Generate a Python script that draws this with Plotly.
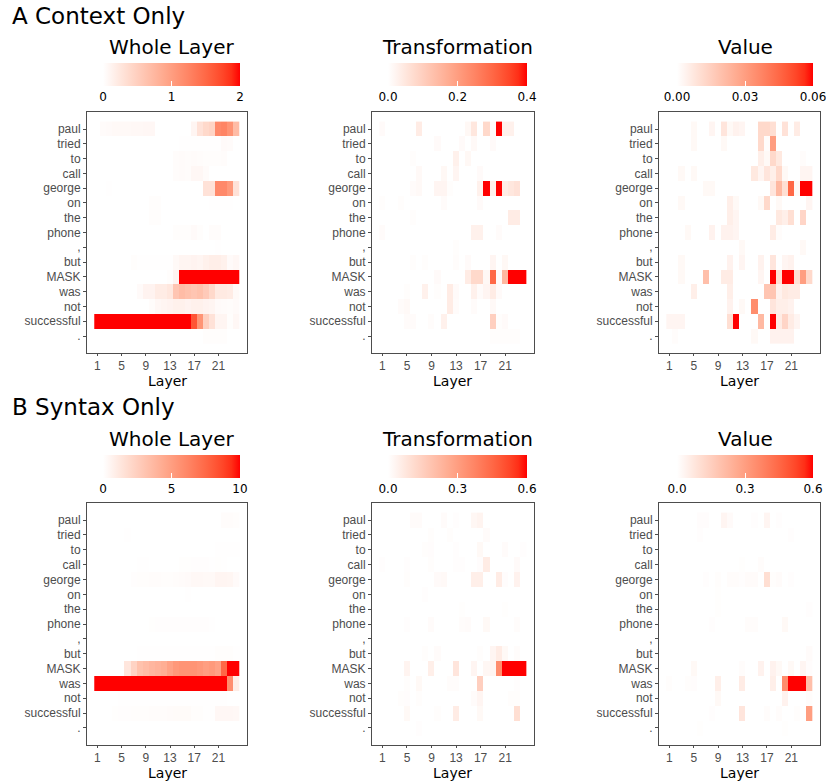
import plotly.graph_objects as go

TOKENS = ["paul", "tried", "to", "call", "george", "on", "the", "phone", ",",
          "but", "MASK", "was", "not", "successful", "."]
LAYERS = list(range(1, 25))
LAYER_TICKS = [1, 5, 9, 13, 17, 21]

# ---------------- A: Context only ----------------
A_WHOLE = [
    [0, .04, .05, .06, .06, .06, .07, .07, .08, .08, 0, 0, 0, 0, 0, 0, .1, .3, .4, .45, 1.2, 1.25, 1.1, .7],
    [0, 0, 0, 0, 0, 0, 0, 0, 0, 0, 0, 0, 0, 0, .01, .01, .01, .01, .01, .01, .01, .05, .04, 0],
    [0, 0, 0, 0, 0, 0, 0, 0, 0, 0, 0, 0, 0, .03, .04, .03, .04, .03, .02, .02, .02, .03, 0, 0],
    [0, 0, 0, 0, 0, 0, 0, 0, 0, 0, 0, 0, 0, .03, .04, .03, .08, .08, .04, 0, 0, 0, 0, 0],
    [0, 0, .01, 0, 0, 0, 0, 0, 0, 0, 0, 0, 0, 0, 0, 0, 0, 0, .3, .3, 1.2, 1.2, 1.05, .3],
    [0, 0, 0, 0, 0, 0, 0, 0, 0, .02, .02, 0, 0, 0, 0, 0, 0, 0, 0, .01, .01, .01, .01, 0],
    [0, 0, 0, 0, 0, 0, 0, 0, 0, .02, .02, 0, 0, 0, 0, 0, 0, 0, 0, 0, 0, 0, 0, 0],
    [0, 0, 0, 0, 0, 0, 0, 0, 0, 0, 0, 0, 0, .02, .02, .02, .05, .02, 0, .03, .03, 0, 0, 0],
    [0, 0, 0, 0, 0, 0, 0, 0, 0, 0, 0, 0, 0, 0, 0, 0, 0, 0, 0, 0, .01, 0, 0, 0],
    [0, 0, 0, 0, 0, 0, .02, .01, .01, .01, .01, .01, .01, .06, .1, .1, .12, .1, .15, .18, .18, .15, .05, .08],
    [0, 0, 0, 0, 0, 0, 0, 0, 0, 0, 0, 0, .02, .12, 2.5, 2.5, 2.5, 2.5, 2.5, 2.5, 2.5, 2.5, 2.5, 2.5],
    [0, 0, 0, 0, 0, 0, 0, .05, .12, .12, .2, .2, .25, .6, .7, .65, .6, .65, .55, .4, .22, .22, .2, .06],
    [0, 0, 0, 0, 0, 0, 0, 0, 0, .03, .08, .1, .12, .15, .15, .12, .15, .15, .12, .1, .05, .04, .03, .05],
    [2.5, 2.5, 2.5, 2.5, 2.5, 2.5, 2.5, 2.5, 2.5, 2.5, 2.5, 2.5, 2.5, 2.5, 2.5, 2.5, 1.65, 1.1, .5, .3, .1, .1, .02, .08],
    [0, 0, 0, 0, 0, 0, 0, 0, 0, 0, 0, 0, 0, 0, 0, 0, 0, 0, .02, .02, .02, .02, 0, 0],
]

A_TRANS = [
    [.01, 0, 0, 0, 0, 0, .04, 0, 0, 0, 0, 0, 0, 0, .015, .05, 0, .08, .01, .45, .03, .03, 0, 0],
    [0, 0, 0, 0, 0, 0, 0, 0, 0, .01, 0, 0, 0, .01, 0, .012, 0, 0, .01, 0, 0, 0, 0, 0],
    [0, 0, 0, 0, 0, .005, 0, 0, 0, 0, 0, 0, .03, 0, .015, 0, 0, 0, 0, 0, 0, 0, 0, 0],
    [0, 0, 0, 0, 0, 0, .012, 0, 0, 0, .015, 0, .02, 0, 0, 0, .01, 0, 0, 0, 0, 0, 0, 0],
    [0, 0, 0, 0, 0, .008, .012, 0, 0, .02, .02, .005, 0, 0, 0, 0, .03, .45, .03, .45, .04, .05, .06, 0],
    [.005, 0, 0, .005, 0, 0, 0, 0, 0, 0, .008, 0, 0, 0, 0, 0, .01, 0, 0, 0, 0, 0, 0, 0],
    [0, 0, 0, 0, 0, .005, 0, 0, 0, 0, 0, 0, 0, 0, 0, 0, 0, 0, 0, 0, 0, .04, .04, 0],
    [.008, 0, 0, 0, 0, 0, 0, 0, 0, 0, 0, 0, 0, 0, 0, .03, .03, 0, 0, .008, 0, 0, 0, 0],
    [0, 0, 0, 0, 0, 0, 0, 0, 0, 0, 0, 0, .005, 0, 0, 0, 0, 0, 0, 0, 0, 0, 0, 0],
    [0, 0, 0, 0, 0, .005, 0, .005, 0, 0, 0, 0, .006, 0, .01, 0, 0, 0, .02, 0, .015, 0, 0, 0],
    [0, 0, 0, 0, 0, 0, 0, 0, 0, .01, 0, 0, 0, 0, .04, .08, .08, .015, .3, .01, .15, .45, .45, .45],
    [0, 0, 0, 0, .005, 0, 0, .03, 0, .005, 0, .04, .01, 0, 0, .03, .008, .02, .04, .01, 0, 0, 0, 0],
    [0, 0, 0, .008, .012, 0, 0, 0, 0, 0, 0, .04, .008, 0, 0, .008, 0, 0, .012, 0, 0, 0, 0, 0],
    [0, 0, 0, 0, .008, .008, 0, 0, .006, 0, .03, 0, 0, 0, 0, 0, 0, 0, .1, .005, .01, 0, 0, 0],
    [0, 0, 0, 0, 0, 0, 0, 0, 0, 0, 0, 0, 0, 0, 0, 0, 0, 0, .005, .005, .005, .005, .005, 0],
]

A_VALUE = [
    [0, 0, 0, 0, .002, 0, 0, .003, 0, .008, .002, .004, .003, 0, 0, .012, .012, .01, 0, .009, 0, .006, 0, 0],
    [0, 0, 0, 0, .002, 0, 0, 0, 0, .002, 0, 0, 0, 0, 0, .012, .001, .03, 0, 0, 0, 0, 0, 0],
    [0, 0, 0, 0, 0, 0, 0, 0, 0, 0, 0, 0, 0, 0, 0, .005, .002, .012, .007, 0, 0, 0, .001, 0],
    [0, 0, .002, 0, .002, 0, 0, 0, 0, 0, 0, 0, 0, 0, .007, .003, .008, .005, .012, .002, 0, 0, .003, .003],
    [0, 0, 0, 0, 0, 0, .002, .002, 0, 0, 0, 0, 0, 0, 0, 0, 0, .008, .022, .01, .045, .002, .065, .065],
    [0, 0, .002, 0, 0, 0, 0, 0, 0, 0, .005, .002, 0, 0, 0, .002, .012, 0, .002, 0, 0, 0, 0, .003],
    [0, 0, 0, 0, 0, 0, 0, 0, 0, 0, .005, .003, 0, 0, 0, 0, 0, 0, .007, .005, .01, 0, .013, 0],
    [0, 0, 0, .002, 0, 0, 0, .004, 0, .004, .004, .003, 0, 0, 0, 0, 0, .006, .001, 0, 0, 0, 0, 0],
    [0, 0, 0, 0, 0, 0, 0, 0, 0, 0, 0, 0, .002, 0, 0, 0, 0, 0, 0, 0, 0, 0, .002, 0],
    [0, 0, .002, 0, 0, 0, 0, 0, 0, 0, .004, 0, .003, 0, 0, .004, 0, .008, 0, .003, .004, 0, 0, 0],
    [0, 0, .002, 0, 0, 0, .02, 0, 0, .006, .006, 0, 0, 0, 0, .003, 0, .065, .01, .065, .065, .01, .03, .012],
    [0, 0, 0, 0, .005, 0, 0, 0, 0, 0, .005, 0, 0, 0, 0, 0, .018, .018, .004, .007, .006, .006, 0, 0],
    [0, 0, 0, 0, 0, 0, 0, 0, 0, 0, .004, 0, .002, 0, .035, 0, 0, .008, .005, .005, .004, 0, 0, 0],
    [.003, .003, .003, 0, 0, 0, 0, 0, 0, 0, .01, .065, 0, 0, 0, .022, 0, .065, .006, .013, .006, .003, 0, 0],
    [0, .001, 0, 0, 0, 0, 0, 0, 0, 0, 0, 0, 0, 0, .002, 0, 0, .004, .004, .004, .004, 0, 0, 0],
]

# ---------------- B: Syntax only ----------------
B_WHOLE = [
    [0, 0, 0, 0, 0, 0, 0, 0, 0, 0, 0, 0, 0, 0, 0, 0, 0, 0, 0, 0, 0, .15, .15, .12],
    [0, 0, 0, 0, 0, .03, 0, 0, 0, 0, 0, 0, 0, 0, 0, 0, 0, 0, 0, 0, 0, 0, 0, 0],
    [0, 0, 0, 0, 0, 0, 0, 0, 0, 0, 0, 0, 0, 0, 0, 0, 0, 0, 0, 0, .04, .05, .05, .03],
    [0, 0, 0, 0, 0, 0, 0, .03, .03, 0, 0, 0, 0, 0, .06, .06, .08, .08, .08, .05, .06, .05, 0, 0],
    [0, 0, 0, 0, 0, 0, .08, .1, .1, .15, .15, .1, .12, .15, .2, .25, .35, .35, .3, .3, .5, .5, .45, .25],
    [0, 0, 0, 0, 0, 0, 0, 0, 0, 0, 0, 0, 0, 0, 0, .05, 0, 0, 0, 0, 0, 0, 0, 0],
    [0, 0, 0, 0, 0, 0, 0, 0, 0, 0, 0, 0, 0, 0, 0, 0, 0, 0, 0, 0, 0, 0, 0, 0],
    [0, 0, 0, 0, 0, 0, 0, 0, 0, .06, .08, .08, .08, .08, .08, .08, .08, .08, .08, .03, 0, 0, 0, 0],
    [0, 0, 0, 0, 0, 0, 0, 0, 0, 0, 0, 0, 0, 0, 0, 0, 0, 0, 0, 0, 0, 0, 0, 0],
    [0, 0, 0, 0, 0, 0, 0, .05, .05, .05, .05, .05, .05, .05, .05, .05, .05, .05, .05, .05, .12, .12, .1, .05],
    [0, 0, 0, 0, 0, 1.3, 2.3, 3.2, 3.5, 3.8, 4.0, 4.2, 4.8, 5.3, 5.5, 5.5, 5.5, 5.3, 5.0, 5.2, 4.8, 7.5, 10.5, 10.5],
    [10.5, 10.5, 10.5, 10.5, 10.5, 10.5, 10.5, 10.5, 10.5, 10.5, 10.5, 10.5, 10.5, 10.5, 10.5, 10.5, 10.5, 10.5, 10.5, 10.5, 10.5, 10.5, 5.8, 1.0],
    [0, 0, 0, 0, .04, .04, .04, .04, .04, .04, .04, .04, .04, .04, .04, .04, .04, .04, .04, .04, .04, .04, 0, 0],
    [0, 0, 0, .06, .08, .08, .12, .12, .12, .15, .15, .15, .2, .22, .22, .22, .12, .12, .05, .03, .4, .4, .4, .35],
    [0, 0, 0, 0, 0, 0, 0, 0, 0, 0, 0, 0, 0, 0, 0, 0, 0, 0, 0, 0, 0, 0, 0, 0],
]

B_TRANS = [
    [0, 0, 0, 0, 0, .012, .012, 0, 0, 0, .012, 0, .005, 0, 0, .025, .035, 0, 0, 0, 0, 0, 0, 0],
    [0, 0, 0, 0, 0, 0, 0, 0, .006, 0, 0, .006, 0, 0, 0, 0, 0, .012, 0, 0, 0, 0, 0, 0],
    [0, 0, 0, 0, 0, 0, 0, .006, .008, 0, 0, 0, .005, 0, 0, 0, .02, 0, 0, 0, .012, 0, 0, .005],
    [.005, 0, 0, 0, .005, 0, 0, 0, .006, 0, 0, 0, .005, .005, 0, 0, .008, .06, 0, 0, 0, 0, .015, 0],
    [0, 0, 0, 0, .006, 0, 0, 0, 0, .015, .018, 0, 0, 0, 0, .05, .05, 0, 0, .06, .008, 0, .04, 0],
    [0, 0, 0, 0, 0, 0, 0, .005, 0, 0, 0, 0, 0, 0, 0, 0, 0, 0, 0, 0, 0, 0, 0, 0],
    [0, 0, 0, 0, 0, 0, 0, 0, 0, 0, 0, 0, 0, .004, 0, 0, 0, 0, 0, 0, .004, 0, 0, 0],
    [0, 0, 0, 0, .005, 0, 0, 0, .012, 0, 0, 0, 0, .01, .012, 0, 0, .02, 0, 0, 0, 0, .01, 0],
    [0, 0, 0, 0, 0, 0, 0, 0, 0, 0, 0, 0, 0, 0, 0, 0, 0, 0, 0, 0, 0, 0, 0, 0],
    [0, 0, 0, 0, 0, 0, 0, .006, 0, .012, 0, 0, 0, 0, 0, 0, .006, 0, .03, .06, .02, 0, .01, 0],
    [0, 0, 0, 0, .035, 0, 0, 0, .05, 0, 0, 0, .08, 0, 0, .03, 0, .025, .03, .35, .65, .65, .65, .65],
    [0, 0, 0, 0, .006, 0, .02, 0, 0, 0, 0, .01, .01, 0, 0, 0, .15, 0, 0, 0, 0, 0, .005, 0],
    [0, 0, 0, .006, .008, 0, .006, 0, 0, 0, 0, 0, 0, 0, 0, .012, .03, 0, 0, 0, 0, .006, .006, 0],
    [0, 0, 0, 0, .02, 0, 0, 0, 0, .006, 0, 0, .06, 0, 0, 0, .02, 0, 0, 0, 0, 0, .1, 0],
    [0, 0, 0, 0, 0, 0, .005, 0, 0, 0, 0, 0, 0, 0, 0, 0, 0, 0, 0, 0, 0, 0, 0, 0],
]

B_VALUE = [
    [0, 0, 0, 0, 0, .008, .008, 0, 0, .03, .015, 0, 0, 0, .005, 0, .03, 0, .005, 0, 0, 0, 0, 0],
    [0, 0, 0, 0, 0, .005, 0, 0, 0, 0, 0, 0, 0, 0, 0, 0, 0, 0, 0, 0, .005, 0, 0, 0],
    [0, 0, 0, 0, 0, 0, 0, 0, 0, 0, 0, 0, 0, 0, 0, 0, 0, 0, 0, 0, 0, 0, 0, 0],
    [0, 0, 0, 0, 0, 0, 0, 0, 0, 0, 0, 0, .004, 0, 0, .01, 0, 0, 0, 0, 0, 0, 0, 0],
    [0, 0, 0, 0, 0, 0, .005, 0, .006, 0, .01, .01, .005, .012, .012, 0, .1, .006, .012, 0, .005, 0, 0, 0],
    [0, 0, 0, 0, 0, 0, 0, 0, .004, 0, 0, 0, 0, 0, 0, 0, 0, 0, 0, 0, 0, 0, 0, 0],
    [0, 0, 0, 0, 0, 0, 0, 0, .004, 0, 0, 0, 0, 0, 0, 0, 0, 0, 0, 0, 0, 0, 0, .005],
    [0, 0, 0, 0, 0, 0, 0, .005, 0, 0, 0, 0, 0, .01, .01, 0, 0, 0, 0, .02, 0, 0, 0, 0],
    [0, 0, 0, 0, 0, 0, 0, 0, 0, 0, 0, 0, 0, 0, 0, 0, 0, 0, 0, 0, 0, 0, 0, 0],
    [0, 0, 0, 0, 0, 0, 0, 0, 0, 0, 0, 0, 0, 0, 0, 0, 0, 0, 0, 0, 0, 0, 0, .012],
    [0, 0, 0, 0, .02, 0, 0, 0, 0, 0, 0, 0, .01, 0, 0, .04, 0, .04, .02, 0, .02, 0, .03, .008],
    [.006, 0, 0, .006, .008, 0, 0, 0, .05, 0, 0, 0, .06, 0, 0, 0, 0, .05, 0, .35, .65, .65, .65, .2],
    [0, 0, 0, 0, 0, 0, 0, 0, .02, 0, 0, 0, 0, 0, 0, 0, 0, 0, 0, .04, 0, 0, 0, .01],
    [0, 0, 0, 0, 0, 0, 0, .005, 0, 0, 0, 0, .08, 0, 0, 0, .01, 0, .01, 0, 0, .006, 0, .3],
    [0, 0, 0, 0, 0, .004, 0, 0, 0, 0, 0, 0, 0, 0, 0, 0, 0, 0, 0, .004, 0, 0, 0, 0],
]

PANEL_TITLES = ["Whole Layer", "Transformation", "Value"]
SECTION_TITLES = ["A Context Only", "B Syntax Only"]
SCALE_MAX = [[2, 0.4, 0.06], [10, 0.6, 0.6]]
SCALE_TICKS = [[[0, 1, 2], [0, 0.2, 0.4], [0, 0.03, 0.06]],
               [[0, 5, 10], [0, 0.3, 0.6], [0, 0.3, 0.6]]]
SCALE_TEXT = [[["0", "1", "2"], ["0.0", "0.2", "0.4"], ["0.00", "0.03", "0.06"]],
              [["0", "5", "10"], ["0.0", "0.3", "0.6"], ["0.0", "0.3", "0.6"]]]
DATA = [[A_WHOLE, A_TRANS, A_VALUE], [B_WHOLE, B_TRANS, B_VALUE]]


# white -> red gradient interpolated in CIE Lab (like ggplot2)
def lab_to_hex(L, a, b):
    fy = (L + 16) / 116
    fx = fy + a / 500
    fz = fy - b / 200

    def finv(t):
        return t ** 3 if t ** 3 > 0.008856 else (t - 16 / 116) / 7.787

    X, Y, Z = 0.95047 * finv(fx), finv(fy), 1.08883 * finv(fz)
    r = 3.2406 * X - 1.5372 * Y - 0.4986 * Z
    g = -0.9689 * X + 1.8758 * Y + 0.0415 * Z
    bb = 0.0557 * X - 0.2040 * Y + 1.0570 * Z

    def gam(c):
        c = 1.055 * c ** (1 / 2.4) - 0.055 if c > 0.0031308 else 12.92 * c
        return max(0, min(255, round(c * 255)))

    return "#%02x%02x%02x" % (gam(r), gam(g), gam(bb))


WHITE_LAB = (100.0, 0.0, 0.0)
RED_LAB = (53.2408, 80.0925, 67.2032)
N = 16
COLORSCALE = []
for i in range(N + 1):
    t = i / N
    L = WHITE_LAB[0] + t * (RED_LAB[0] - WHITE_LAB[0])
    a = WHITE_LAB[1] + t * (RED_LAB[1] - WHITE_LAB[1])
    b = WHITE_LAB[2] + t * (RED_LAB[2] - WHITE_LAB[2])
    COLORSCALE.append([t, lab_to_hex(L, a, b)])

W, H = 826, 782
BOX_X = [(87, 247), (372, 534), (659, 820)]
BOX_Y = [(112, 353), (503, 745)]
CBAR_X = [(103, 240), (388, 527), (677, 813)]
CBAR_TOP = [63, 455]
CBAR_THICK = 23

TITLE_FONT = "DejaVu Sans"
TICK_FONT = "Liberation Sans, Arial, sans-serif"

fig = go.Figure()
annotations = []
for r in range(2):
    for c in range(3):
        k = r * 3 + c + 1
        xa = "x" if k == 1 else f"x{k}"
        ya = "y" if k == 1 else f"y{k}"
        x0, x1 = BOX_X[c]
        y0, y1 = BOX_Y[r]
        cx0, cx1 = CBAR_X[c]
        fig.add_trace(go.Heatmap(
            z=DATA[r][c], x=LAYERS, y=list(range(len(TOKENS))),
            xaxis=xa, yaxis=ya,
            zmin=0, zmax=SCALE_MAX[r][c],
            colorscale=COLORSCALE,
            colorbar=dict(
                orientation="h",
                x=(cx0 + cx1) / 2 / W, xanchor="center",
                y=1 - CBAR_TOP[r] / H, yanchor="top",
                len=(cx1 - cx0) / W, lenmode="fraction",
                thickness=CBAR_THICK, outlinewidth=0, xpad=0, ypad=0,
                tickvals=SCALE_TICKS[r][c], ticktext=SCALE_TEXT[r][c],
                ticks="inside", ticklen=5, tickwidth=1.2, tickcolor="white",
                ticklabeloverflow="allow",
                tickfont=dict(family=TITLE_FONT, size=12, color="black"),
            ),
            hovertemplate="layer %{x}<br>%{y}<br>%{z}<extra></extra>",
        ))
        axis_common = dict(
            showline=True, linecolor="#4d4d4d", linewidth=1, mirror=True,
            ticks="outside", tickcolor="#4d4d4d", tickwidth=1,
            showgrid=False, zeroline=False,
            tickfont=dict(family=TICK_FONT, size=12, color="#4d4d4d"),
        )
        fig.layout[("xaxis" if k == 1 else f"xaxis{k}")] = dict(
            domain=[x0 / W, x1 / W], anchor=ya, ticklen=2,
            range=[-0.7, 25.7], tickvals=LAYER_TICKS,
            **axis_common,
        )
        fig.layout[("yaxis" if k == 1 else f"yaxis{k}")] = dict(
            domain=[1 - y1 / H, 1 - y0 / H], anchor=xa, ticklen=3,
            range=[len(TOKENS) - 1 + 1.15, -1.15],
            tickvals=list(range(len(TOKENS))), ticktext=TOKENS,
            **axis_common,
        )
        annotations.append(dict(
            text=PANEL_TITLES[c], x=(cx0 + cx1) / 2 / W, y=1 - (CBAR_TOP[r] - 16) / H,
            xref="paper", yref="paper", xanchor="center", yanchor="middle",
            showarrow=False, font=dict(family=TITLE_FONT, size=20, color="black"),
        ))
        annotations.append(dict(
            text="Layer", x=(x0 + x1) / 2 / W, y=1 - (y1 + 28) / H,
            xref="paper", yref="paper", xanchor="center", yanchor="middle",
            showarrow=False, font=dict(family=TITLE_FONT, size=14, color="black"),
        ))
    annotations.append(dict(
        text=SECTION_TITLES[r], x=10 / W, y=1 - (16 if r == 0 else 407) / H,
        xref="paper", yref="paper", xanchor="left", yanchor="middle",
        showarrow=False, font=dict(family=TITLE_FONT, size=23, color="black"),
    ))

fig.update_layout(
    width=W, height=H, margin=dict(l=0, r=0, t=0, b=0, autoexpand=False),
    paper_bgcolor="white", plot_bgcolor="white",
    annotations=annotations, showlegend=False,
)
fig.write_html(
    "out.html",
    config={"displayModeBar": False},
    post_script="document.body.style.margin='0';document.body.style.overflow='hidden';",
)
